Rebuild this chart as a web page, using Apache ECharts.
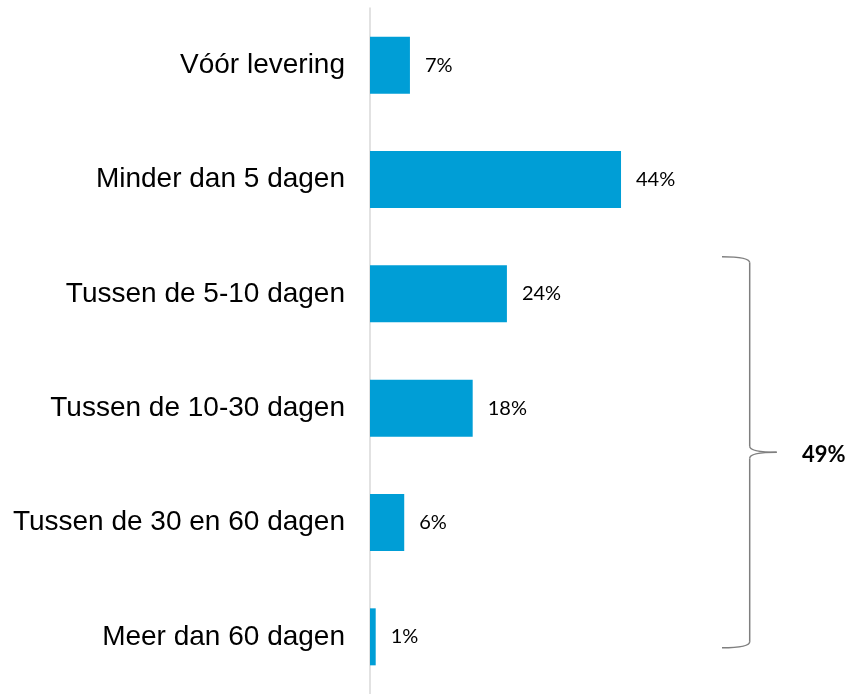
<!DOCTYPE html>
<html>
<head>
<meta charset="utf-8">
<script src="https://cdn.jsdelivr.net/npm/echarts@6/dist/echarts.min.js"></script>
<style>
  html, body { margin: 0; padding: 0; background: #fff; }
  #chart { width: 849px; height: 694px; }
</style>
</head>
<body>
<div id="chart"></div>
<script>
const categories = ["Vóór levering", "Minder dan 5 dagen", "Tussen de 5-10 dagen", "Tussen de 10-30 dagen", "Tussen de 30 en 60 dagen", "Meer dan 60 dagen"]
const values = [7, 44, 24, 18, 6, 1]
const bracketLabel = "49%"
const bracketFrom = 2
const bracketTo = 5

const BAR_COLOR = "#009ED6"

const chart = echarts.init(document.getElementById("chart"))

chart.setOption({
  animation: false,
  grid: { top: 8, left: 370, width: 456.4, height: 689 },
  xAxis: {
    type: "value",
    min: 0,
    max: 80,
    show: false,
  },
  yAxis: {
    type: "category",
    inverse: true,
    data: categories,
    axisLine: { lineStyle: { color: "#D9D9D9", width: 1.5 } },
    axisTick: { show: false },
    axisLabel: {
      color: "#000",
      fontSize: 28,
      fontFamily: "Liberation Sans, Arial",
      margin: 25,
    },
  },
  series: [{
    type: "bar",
    data: values,
    barWidth: 57,
    itemStyle: { color: BAR_COLOR },
    label: {
      show: true,
      position: "right",
      distance: 15,
      formatter: "{c}%",
      color: "#000",
      fontSize: 20,
      fontFamily: "Lato",
      padding: [3, 0, 0, 0],
    },
  }],
})

// curly bracket grouping the last four categories
const yTop = chart.convertToPixel({ yAxisIndex: 0 }, bracketFrom) - 37
const yBot = chart.convertToPixel({ yAxisIndex: 0 }, bracketTo) + 11
const yMid = (yTop + yBot) / 2
const xl = 722, xv = 749.7, xt = 776.7
const bStyle = { stroke: "#7F7F7F", lineWidth: 1.5, fill: null }

chart.setOption({
  graphic: [
    { type: "bezierCurve", shape: { x1: xl, y1: yTop, cpx1: xv, cpy1: yTop, x2: xv, y2: yTop + 6 }, style: bStyle },
    { type: "line", shape: { x1: xv, y1: yTop + 6, x2: xv, y2: yMid - 6 }, style: bStyle },
    { type: "bezierCurve", shape: { x1: xv, y1: yMid - 6, cpx1: xv, cpy1: yMid, x2: xt, y2: yMid }, style: bStyle },
    { type: "bezierCurve", shape: { x1: xt, y1: yMid, cpx1: xv, cpy1: yMid, x2: xv, y2: yMid + 6 }, style: bStyle },
    { type: "line", shape: { x1: xv, y1: yMid + 6, x2: xv, y2: yBot - 6 }, style: bStyle },
    { type: "bezierCurve", shape: { x1: xv, y1: yBot - 6, cpx1: xv, cpy1: yBot, x2: xl, y2: yBot }, style: bStyle },
    {
      type: "text",
      x: 802,
      y: yMid + 3,
      style: {
        text: bracketLabel,
        fill: "#000",
        font: "bold 22px Lato",
        verticalAlign: "middle",
      },
    },
  ],
})

window.addEventListener("resize", () => chart.resize())
</script>
</body>
</html>
